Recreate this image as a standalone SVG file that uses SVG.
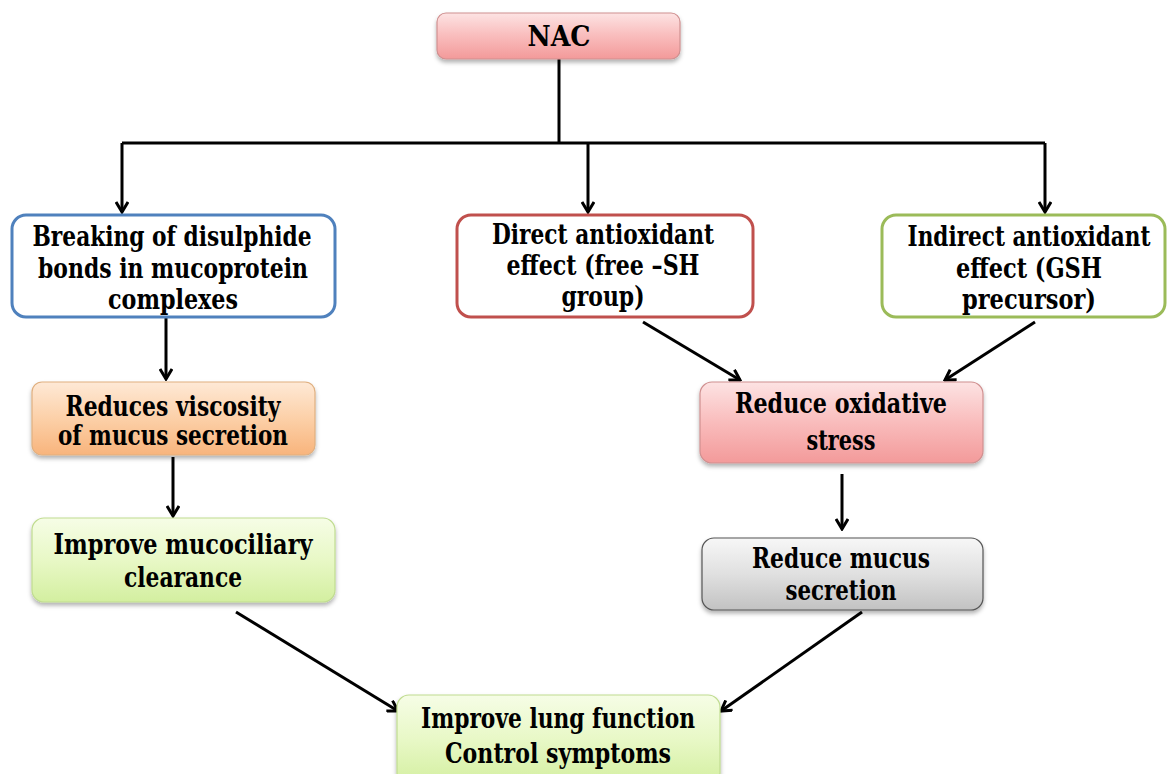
<svg xmlns="http://www.w3.org/2000/svg" width="1168" height="774" viewBox="0 0 1168 774">
<defs>
<linearGradient id="gPink" x1="0" y1="0" x2="0" y2="1"><stop offset="0" stop-color="#fde3e3"/><stop offset="0.5" stop-color="#f9bcbc"/><stop offset="1" stop-color="#f39a9a"/></linearGradient>
<linearGradient id="gOrange" x1="0" y1="0" x2="0" y2="1"><stop offset="0" stop-color="#fee9d6"/><stop offset="0.5" stop-color="#fcd0a8"/><stop offset="1" stop-color="#f8b47c"/></linearGradient>
<linearGradient id="gGreen" x1="0" y1="0" x2="0" y2="1"><stop offset="0" stop-color="#f6fde6"/><stop offset="0.5" stop-color="#e8f8c6"/><stop offset="1" stop-color="#d3efa0"/></linearGradient>
<linearGradient id="gGray" x1="0" y1="0" x2="0" y2="1"><stop offset="0" stop-color="#f7f7f7"/><stop offset="0.5" stop-color="#e0e0e0"/><stop offset="1" stop-color="#c2c2c2"/></linearGradient>
<filter id="sh" x="-10%" y="-10%" width="120%" height="130%"><feDropShadow dx="0" dy="3" stdDeviation="2" flood-color="#000" flood-opacity="0.3"/></filter>
<marker id="arr" viewBox="0 0 14 14" refX="12" refY="7" markerWidth="14" markerHeight="14" markerUnits="userSpaceOnUse" orient="auto">
<path d="M2,1 L12,7 L2,13" fill="none" stroke="#000" stroke-width="3" stroke-linejoin="miter"/>
</marker>
</defs>
<style>
text{font-family:"DejaVu Serif","Liberation Serif","Noto Serif",serif;font-weight:bold;font-size:27px;fill:#000;text-anchor:middle}
.c{stroke:#000;stroke-width:3;fill:none}
.ca{stroke:#000;stroke-width:3;fill:none;marker-end:url(#arr)}
.fill{stroke-width:1.2;filter:url(#sh)}
.ol{fill:#fff;stroke-width:3}
</style>
<rect width="1168" height="774" fill="#fff"/>
<g id="connectors">
<path class="c" d="M559,59 V143"/>
<path class="c" d="M122,143 H1045"/>
<path class="ca" d="M122,143 V212"/>
<path class="ca" d="M588,143 V212"/>
<path class="ca" d="M1045,143 V212"/>
<path class="ca" d="M166,317 V379"/>
<path class="ca" d="M173,457 V516"/>
<path class="ca" d="M643,322 L740,380"/>
<path class="ca" d="M1035,322 L945,380"/>
<path class="ca" d="M842,474 V529"/>
<path class="ca" d="M236,612 L398,711"/>
<path class="ca" d="M862,612 L721,711"/>
</g>
<g id="nac">
<rect class="fill" x="437" y="13" width="243" height="46" rx="9" fill="url(#gPink)" stroke="#d09090"/>
<text x="559" y="46" textLength="63" lengthAdjust="spacingAndGlyphs">NAC</text>
</g>
<g id="breaking">
<rect class="ol" x="12" y="215" width="323" height="102" rx="14" stroke="#4f81bd"/>
<text transform="matrix(0.7,0,0,1,172,246)" x="0" y="0" textLength="398.6" lengthAdjust="spacingAndGlyphs">Breaking of disulphide</text>
<text x="173" y="278" textLength="270" lengthAdjust="spacingAndGlyphs">bonds in mucoprotein</text>
<text x="173" y="309" textLength="130" lengthAdjust="spacingAndGlyphs">complexes</text>
</g>
<g id="direct">
<rect class="ol" x="457" y="215" width="296" height="102" rx="14" stroke="#c0504d"/>
<text x="603" y="244" textLength="222" lengthAdjust="spacingAndGlyphs">Direct antioxidant</text>
<text x="603" y="275" textLength="193" lengthAdjust="spacingAndGlyphs">effect (free –SH</text>
<text x="603" y="306" textLength="83" lengthAdjust="spacingAndGlyphs">group)</text>
</g>
<g id="indirect">
<rect class="ol" x="882" y="215" width="283" height="102" rx="14" stroke="#9bbb59"/>
<text transform="matrix(0.7,0,0,1,1029,246)" x="0" y="0" textLength="347" lengthAdjust="spacingAndGlyphs">Indirect antioxidant</text>
<text x="1029" y="278" textLength="146" lengthAdjust="spacingAndGlyphs">effect (GSH</text>
<text x="1029" y="309" textLength="134" lengthAdjust="spacingAndGlyphs">precursor)</text>
</g>
<g id="viscosity">
<rect class="fill" x="32" y="382" width="283" height="73" rx="10" fill="url(#gOrange)" stroke="#e0b080"/>
<text x="173" y="416" textLength="215" lengthAdjust="spacingAndGlyphs">Reduces viscosity</text>
<text x="173" y="445" textLength="230" lengthAdjust="spacingAndGlyphs">of mucus secretion</text>
</g>
<g id="clearance">
<rect class="fill" x="32" y="518" width="303" height="84" rx="12" fill="url(#gGreen)" stroke="#c0dc90"/>
<text x="183" y="554" textLength="259" lengthAdjust="spacingAndGlyphs">Improve mucociliary</text>
<text x="183" y="587" textLength="118" lengthAdjust="spacingAndGlyphs">clearance</text>
</g>
<g id="oxidative">
<rect class="fill" x="700" y="382" width="283" height="81" rx="12" fill="url(#gPink)" stroke="#d09090"/>
<text x="841" y="413" textLength="212" lengthAdjust="spacingAndGlyphs">Reduce oxidative</text>
<text x="841" y="450" textLength="69" lengthAdjust="spacingAndGlyphs">stress</text>
</g>
<g id="mucus">
<rect class="fill" x="702" y="538" width="281" height="72" rx="12" fill="url(#gGray)" stroke="#555"/>
<text x="841" y="568" textLength="178" lengthAdjust="spacingAndGlyphs">Reduce mucus</text>
<text x="841" y="600" textLength="111" lengthAdjust="spacingAndGlyphs">secretion</text>
</g>
<g id="lung">
<rect class="fill" x="397" y="695" width="323" height="90" rx="12" fill="url(#gGreen)" stroke="#c0dc90"/>
<text x="558" y="728" textLength="274" lengthAdjust="spacingAndGlyphs">Improve lung function</text>
<text x="558" y="763" textLength="226" lengthAdjust="spacingAndGlyphs">Control symptoms</text>
</g>
</svg>
